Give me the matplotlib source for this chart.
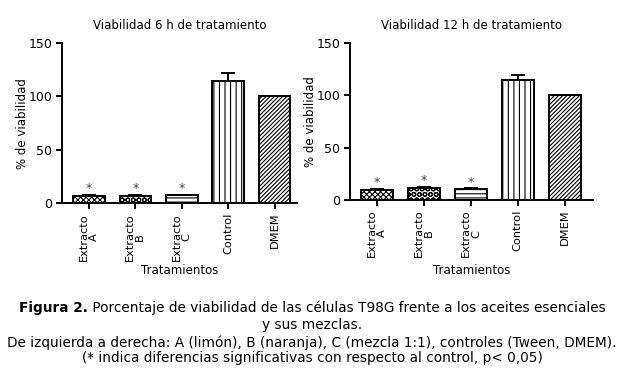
import matplotlib
matplotlib.use('Agg')
import matplotlib.pyplot as plt
import numpy as np

# datos
categorias = ['Extracto\nA', 'Extracto\nB', 'Extracto\nC', 'Control', 'DMEM']
viab_6h = [7, 7, 7.5, 114.5, 100]
err_6h = [0.8, 0.5, 0.5, 7.5, 0]
viab_12h = [10, 11.5, 10.2, 114, 100.5]
err_12h = [0.6, 0.8, 0.8, 5.5, 0]
significativo = [True, True, True, False, False]
titulos = ['Viabilidad 6 h de tratamiento', 'Viabilidad 12 h de tratamiento']

tramas = ['xxxxxx', 'OOO', '----', '|||', '////////']

plt.rcParams['hatch.linewidth'] = 0.8
plt.rcParams['font.family'] = 'DejaVu Sans'

fig = plt.figure(figsize=(6.24, 3.68), dpi=100)
ax1 = fig.add_axes([0.0994, 0.448, 0.377, 0.435])
ax2 = fig.add_axes([0.561, 0.4565, 0.389, 0.4275])


def panel(ax, valores, errores, titulo, xlim, ylab_x, xlab_y):
    x = np.arange(len(categorias))
    for i in range(len(categorias)):
        ax.bar(x[i], valores[i], width=0.68, color='white', edgecolor='black',
               linewidth=1.4, hatch=tramas[i], zorder=2)
        if errores[i] > 0:
            ax.errorbar(x[i], valores[i], yerr=[[0], [errores[i]]], color='black',
                        capsize=5, elinewidth=1.4, capthick=1.4, zorder=3)
        if significativo[i]:
            ax.text(x[i], valores[i] + errores[i] + 6, '*', ha='center', va='center',
                    fontsize=9, color='#444444')
    ax.set_ylim(0, 150)
    ax.set_xlim(*xlim)
    ax.set_yticks([0, 50, 100, 150])
    ax.set_xticks(x)
    ax.set_xticklabels(categorias, rotation=90, fontsize=8.2, linespacing=1.0,
                       ha='center', va='top')
    ax.tick_params(axis='y', labelsize=9, width=1.4, length=4, pad=3)
    ax.tick_params(axis='x', width=1.4, length=4, pad=3)
    for s in ['top', 'right']:
        ax.spines[s].set_visible(False)
    for s in ['left', 'bottom']:
        ax.spines[s].set_linewidth(1.4)
    ax.set_title(titulo, fontsize=8.5, pad=10)
    ax.set_ylabel('% de viabilidad', fontsize=8.5, va='center')
    ax.yaxis.set_label_coords(ylab_x, 0.5)
    ax.set_xlabel('Tratamientos', fontsize=8.5, va='center')
    ax.xaxis.set_label_coords(0.5, xlab_y)


panel(ax1, viab_6h, err_6h, titulos[0], (-0.58, 4.49), -0.17, -0.419)
panel(ax2, viab_12h, err_12h, titulos[1], (-0.58, 4.6), -0.165, -0.445)

fs = 9.8
# primera linea: "Figura 2." en negrita y el resto normal
renderer = fig.canvas.get_renderer()
t_bold = fig.text(0, 0, 'Figura 2.', fontsize=fs, fontweight='bold')
t_rest = fig.text(0, 0, ' Porcentaje de viabilidad de las células T98G frente a los aceites esenciales',
                  fontsize=fs)
w_bold = t_bold.get_window_extent(renderer).width
w_rest = t_rest.get_window_extent(renderer).width
W = fig.bbox.width
x0 = (W - w_bold - w_rest) / 2 / W
y1 = 1 - 308 / 368
t_bold.set_position((x0, y1))
t_bold.set_va('center')
t_rest.set_position((x0 + w_bold / W, y1))
t_rest.set_va('center')

fig.text(0.5, 1 - 325 / 368, 'y sus mezclas.', ha='center', va='center', fontsize=fs)
fig.text(0.5, 1 - 343 / 368, 'De izquierda a derecha: A (limón), B (naranja), C (mezcla 1:1), controles (Tween, DMEM).',
         ha='center', va='center', fontsize=fs)
fig.text(0.5, 1 - 358 / 368, '(* indica diferencias significativas con respecto al control, p< 0,05)',
         ha='center', va='center', fontsize=fs)

fig.savefig('out.png', dpi=100)
